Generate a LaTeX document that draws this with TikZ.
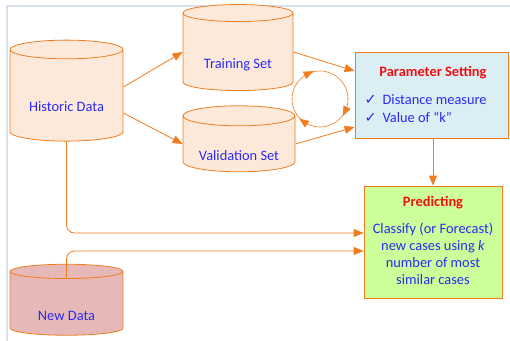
\documentclass[tikz,border=0pt]{standalone}
\usepackage{fontspec}
\setmainfont{Carlito}
\newfontfamily\symfont{DejaVu Sans}
\usepackage{tikz}
\usetikzlibrary{shapes.geometric,arrows.meta}
\definecolor{lineorange}{HTML}{EE7D1F}
\definecolor{cylfill}{HTML}{FDE9D9}
\definecolor{newfill}{HTML}{E6B9B8}
\definecolor{paramfill}{HTML}{DBEEF4}
\definecolor{predfill}{HTML}{CCFF99}
\definecolor{textblue}{HTML}{2A2AF5}
\definecolor{titlered}{HTML}{F01010}
\definecolor{framecol}{HTML}{D6E1ED}

\begin{document}
\begin{tikzpicture}[
  x=1pt, y=-1pt,
  font=\fontsize{14.4}{17}\selectfont,
  every node/.style={text=textblue},
  store/.style={cylinder, shape border rotate=90, draw=lineorange, thick,
    fill=cylfill, aspect=0.25, inner sep=0pt, text height=32pt, text depth=0pt},
  panel/.style={rectangle, draw=lineorange, thick, inner sep=0pt},
  tip/.tip={Triangle[length=10pt,width=8pt]},
  flow/.style={lineorange, thick, -tip},
  title/.style={text=titlered, font=\fontsize{14.4}{17}\selectfont\bfseries},
]
\useasboundingbox (0,0) rectangle (510,340);
\clip (0,0) rectangle (510,340);
\draw[framecol, line width=2pt] (7,6) rectangle (530,360);

% data stores
\node[store, minimum width=113, minimum height=101] (hist) at (66.5,95.5) {Historic Data};
\node[store, minimum width=110, minimum height=86] (train) at (238,52) {Training Set};
\node[store, minimum width=112, minimum height=66] (valid) at (239,144) {Validation Set};
\node[store, fill=newfill, minimum width=113, minimum height=71, text height=34pt] (new) at (66.5,303.5) {New Data};

% parameter box
\node[panel, fill=paramfill, minimum width=153, minimum height=86] (param) at (431.5,95) {};
\node[title] (paramtitle) at (433,73) {Parameter Setting};
\node[anchor=base west] (chk1) at (361,104) {{\symfont ✓}\hspace{6pt}Distance measure};
\node[anchor=base west] (chk2) at (361,122) {{\symfont ✓}\hspace{6pt}Value of “k”};

% predicting box
\node[panel, fill=predfill, minimum width=138, minimum height=112] (pred) at (433,242) {};
\node[title] (predtitle) at (433,203) {Predicting};
\node[align=center, anchor=north] (predtext) at (433,219)
  {Classify (or Forecast)\\new cases using \textit{k}\\number of most\\similar cases};

% connectors
\draw[flow] ([yshift=8.5pt]hist.east) -- (train.west);
\draw[flow] ([yshift=-17.5pt]hist.east) -- (valid.west);
\draw[flow] (train.east) -- ([yshift=24pt]param.west);
\draw[flow] (valid.east) -- ([yshift=-32pt]param.west);
\draw[flow] (param.south -| pred.north) -- (pred.north);
\draw[flow, rounded corners=8pt] (hist.south) |- ([yshift=9pt]pred.west);
\draw[flow, rounded corners=8pt] ([yshift=-14pt]new.north) |- ([yshift=-9pt]pred.west);

% tuning loop
\coordinate (loop) at (320,99);
\draw[lineorange, semithick] (loop) circle[radius=28pt];
\foreach \a in {115,-25,-125}
  \fill[lineorange, shift={(loop)}, rotate=\a] (28pt,-6pt) -- (24pt,4pt) -- (32pt,4pt) -- cycle;
\end{tikzpicture}
\end{document}
